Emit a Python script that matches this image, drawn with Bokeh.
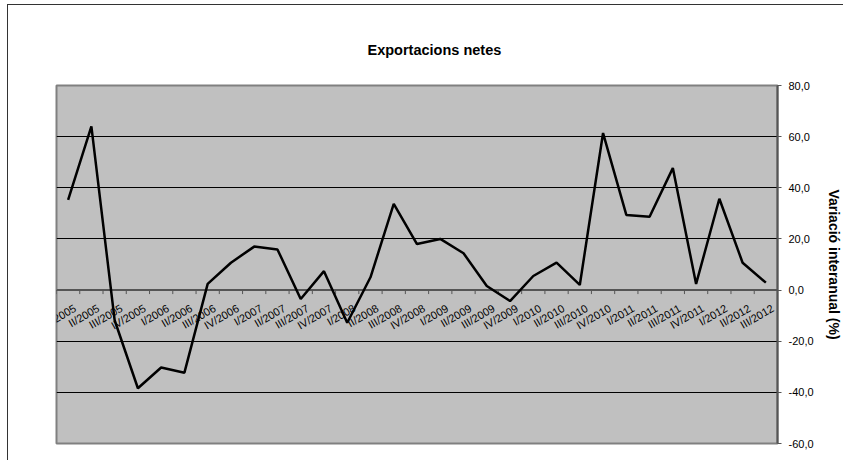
import math
from bokeh.plotting import figure
from bokeh.models import (Range1d, FixedTicker, CustomJSTickFormatter, Title)
from bokeh.core.properties import value
from bokeh.embed import file_html
from bokeh.resources import INLINE

# ---- data -------------------------------------------------------------
quarters = ["I/2005", "II/2005", "III/2005", "IV/2005",
            "I/2006", "II/2006", "III/2006", "IV/2006",
            "I/2007", "II/2007", "III/2007", "IV/2007",
            "I/2008", "II/2008", "III/2008", "IV/2008",
            "I/2009", "II/2009", "III/2009", "IV/2009",
            "I/2010", "II/2010", "III/2010", "IV/2010",
            "I/2011", "II/2011", "III/2011", "IV/2011",
            "I/2012", "II/2012", "III/2012"]
net_exports = [35.3, 64.0, -11.8, -38.4,
               -30.3, -32.3, 2.4, 10.7,
               17.0, 15.9, -3.5, 7.4,
               -12.8, 5.0, 33.7, 18.0,
               20.0, 14.4, 1.6, -4.3,
               5.5, 10.7, 2.0, 61.4,
               29.4, 28.7, 47.7, 2.4,
               35.7, 10.7, 2.9]
y_ticks = [-60, -40, -20, 0, 20, 40, 60, 80]
chart_title = "Exportacions netes"
y_title = "Variació interanual (%)"

FONT = "Liberation Sans"

n = len(quarters)
centers = [i + 0.5 for i in range(n)]
bounds = list(range(n + 1))

# canvas starts at (8, 5) after the outer chart border
p = figure(width=836, height=456, output_backend="svg", toolbar_location=None,
           x_range=Range1d(0, n), y_range=Range1d(y_ticks[0], y_ticks[-1]),
           x_axis_location=None, y_axis_location="right",
           min_border_left=48, min_border_right=66, min_border_top=80, min_border_bottom=18)
p.styles = {"margin-left": "7px", "margin-top": "4px",
            "border-left": "1px solid #333333", "border-top": "1px solid #333333"}

p.background_fill_color = "#C0C0C0"
p.border_fill_color = "white"
p.outline_line_color = "#808080"
p.outline_line_width = 2

# title
p.title = Title(text=chart_title, align="left", offset=311, standoff=55,
                text_font=FONT, text_font_size="14.5px", text_font_style="bold",
                text_color="black")

# y axis (right)
yax = p.yaxis[0]
yax.ticker = FixedTicker(ticks=y_ticks)
yax.formatter = CustomJSTickFormatter(code="return tick.toFixed(1).replace('.', ',');")
yax.minor_tick_line_color = None
yax.major_tick_out = 4
yax.major_tick_in = 0
yax.major_tick_line_color = "#555555"
yax.axis_line_color = "#555555"
yax.axis_line_width = 2
yax.major_label_text_font = FONT
yax.major_label_text_font_size = "11px"
yax.major_label_text_color = "black"
yax.major_label_standoff = 7
yax.axis_label = y_title
yax.axis_label_text_font = FONT
yax.axis_label_text_font_size = "14px"
yax.axis_label_text_font_style = "bold"
yax.axis_label_text_color = "black"
yax.axis_label_standoff = 9

p.ygrid.ticker = FixedTicker(ticks=y_ticks)
p.ygrid.grid_line_color = "black"
p.ygrid.grid_line_width = 1
p.xgrid.grid_line_color = None

# category axis drawn at y = 0
p.ray(x=bounds, y=[0] * len(bounds), length=4, length_units="screen",
      angle=-math.pi / 2, line_color="#555555", line_width=1)
p.segment(x0=[0], y0=[0], x1=[n], y1=[0], line_color="#555555", line_width=2)
p.text(x=centers, y=[0] * n, text=quarters, angle=math.radians(30),
       text_align="right", text_baseline="top", x_offset=4, y_offset=12,
       text_font=value(FONT), text_font_size="11px", text_color="black")

# series
p.line(x=centers, y=net_exports, line_color="black", line_width=2.5)

open("out.html", "w").write(file_html(p, INLINE))
